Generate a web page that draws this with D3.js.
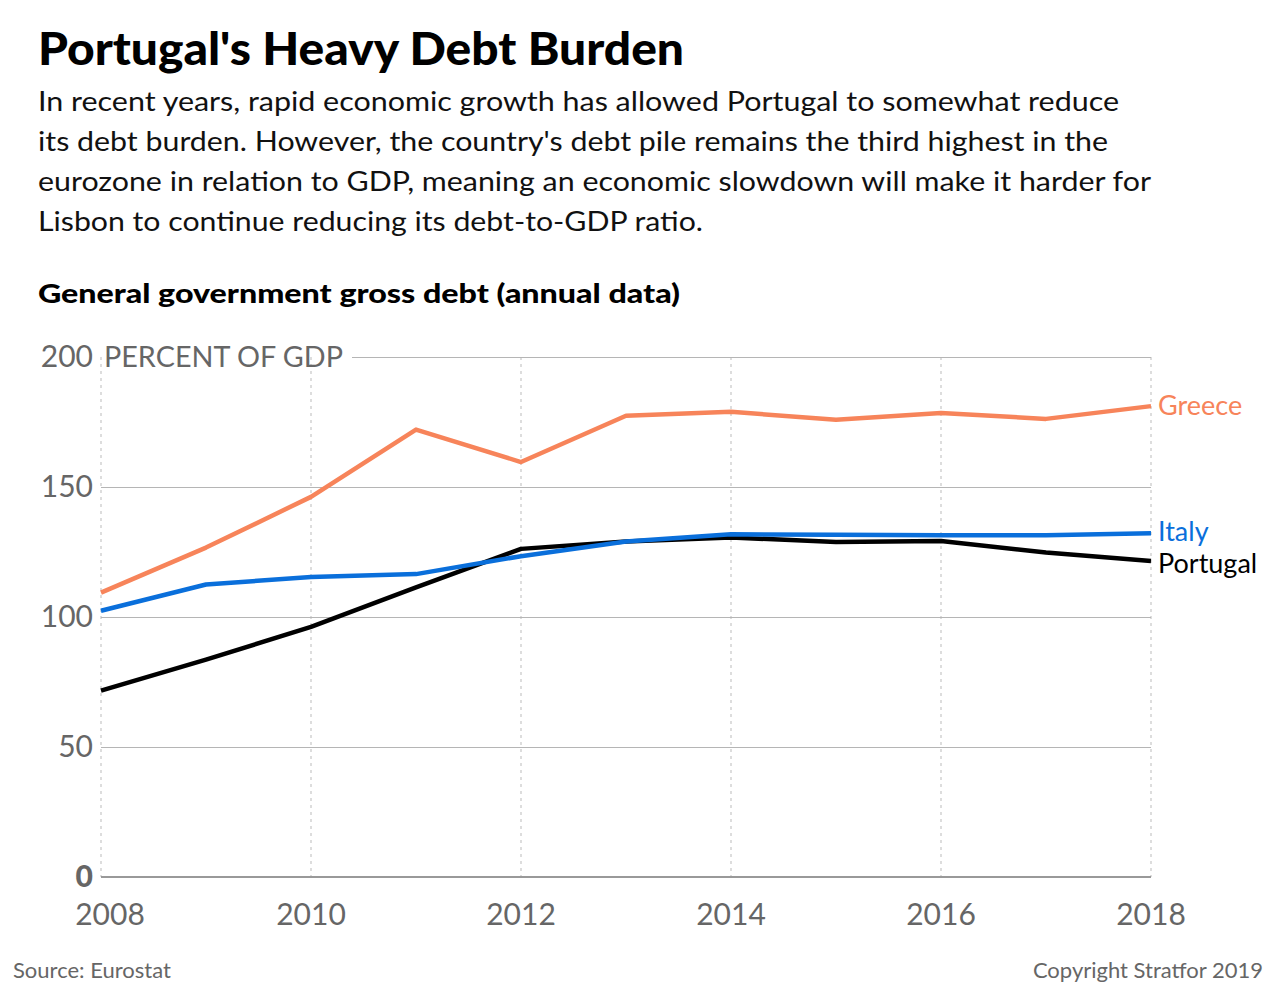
<!DOCTYPE html>
<html>
<head>
<meta charset="utf-8">
<script src="https://cdn.jsdelivr.net/npm/d3@7"></script>
<style>
  body { margin: 0; background: #fff; }
  svg text { font-family: Lato, "Open Sans", sans-serif; }
</style>
</head>
<body>
<svg></svg>
<script>
const years = [2008, 2009, 2010, 2011, 2012, 2013, 2014, 2015, 2016, 2017, 2018]
const greece = [109.4, 126.7, 146.2, 172.1, 159.6, 177.4, 178.9, 175.9, 178.5, 176.2, 181.1]
const italy = [102.4, 112.5, 115.4, 116.5, 123.4, 129.0, 131.8, 131.6, 131.4, 131.4, 132.2]
const portugal = [71.7, 83.6, 96.2, 111.4, 126.2, 129.0, 130.6, 128.8, 129.2, 124.8, 121.5]
const yTicks = [0, 50, 100, 150, 200]
const xTicks = [2008, 2010, 2012, 2014, 2016, 2018]

const series = [
      { name: "Greece", values: greece, color: "#f7845a" },
      { name: "Italy", values: italy, color: "#0a6fdb" },
      { name: "Portugal", values: portugal, color: "#000000" }]

const width = 1280
const height = 1005

const svg = d3.select("svg")
      .attr("width", width)
      .attr("height", height)

const x = d3.scaleLinear().domain([2008, 2018]).range([101, 1151])
const y = d3.scaleLinear().domain([0, 200]).range([877, 357])

// headings
svg.append("text")
      .attr("x", 38).attr("y", 65)
      .attr("font-size", 46).attr("font-weight", 900)
      .attr("textLength", 646).attr("lengthAdjust", "spacingAndGlyphs")
      .text("Portugal's Heavy Debt Burden")

const intro = [
      "In recent years, rapid economic growth has allowed Portugal to somewhat reduce",
      "its debt burden. However, the country's debt pile remains the third highest in the",
      "eurozone in relation to GDP, meaning an economic slowdown will make it harder for",
      "Lisbon to continue reducing its debt-to-GDP ratio."]
const introW = [1081, 1070, 1113, 665]

svg.append("g")
      .selectAll("text")
      .data(intro)
      .join("text")
      .attr("x", 38)
      .attr("y", (d, i) => 111 + i * 40)
      .attr("font-size", 26)
      .attr("fill", "#111")
      .attr("textLength", (d, i) => introW[i])
      .attr("lengthAdjust", "spacingAndGlyphs")
      .text(d => d)

svg.append("text")
      .attr("x", 38).attr("y", 303)
      .attr("font-size", 27).attr("font-weight", 900)
      .attr("textLength", 642).attr("lengthAdjust", "spacingAndGlyphs")
      .text("General government gross debt (annual data)")

// grid
svg.append("g")
      .attr("stroke", "#bbb")
      .attr("stroke-dasharray", "3,4")
      .selectAll("line")
      .data(xTicks)
      .join("line")
      .attr("x1", d => x(d)).attr("x2", d => x(d))
      .attr("y1", y(200)).attr("y2", y(0))

svg.append("g")
      .attr("stroke", "#b5b5b5")
      .selectAll("line")
      .data(yTicks.filter(d => d > 0))
      .join("line")
      .attr("x1", d => d === 200 ? 352 : x(2008))
      .attr("x2", x(2018))
      .attr("y1", d => y(d) + 0.5).attr("y2", d => y(d) + 0.5)

svg.append("line")
      .attr("x1", x(2008)).attr("x2", x(2018))
      .attr("y1", y(0)).attr("y2", y(0))
      .attr("stroke", "#999").attr("stroke-width", 2)

// axis labels
svg.append("g")
      .selectAll("text")
      .data(yTicks)
      .join("text")
      .attr("x", 93)
      .attr("y", d => y(d) + 10)
      .attr("text-anchor", "end")
      .attr("font-size", 30)
      .attr("font-weight", d => d === 0 ? 900 : 400)
      .attr("fill", "#666")
      .text(d => d)

svg.append("text")
      .attr("x", 104).attr("y", y(200) + 10)
      .attr("font-size", 28).attr("fill", "#666")
      .attr("textLength", 239).attr("lengthAdjust", "spacingAndGlyphs")
      .text("PERCENT OF GDP")

svg.append("g")
      .selectAll("text")
      .data(xTicks)
      .join("text")
      .attr("x", d => x(d) + (d === 2008 ? 9 : 0))
      .attr("y", 925)
      .attr("text-anchor", "middle")
      .attr("font-size", 30)
      .attr("fill", "#666")
      .text(d => d)

// lines
const line = d3.line()
      .x((d, i) => x(years[i]))
      .y(d => y(d))

svg.append("g")
      .attr("fill", "none")
      .attr("stroke-width", 4.5)
      .attr("stroke-linejoin", "round")
      .selectAll("path")
      .data(series.slice().reverse())
      .join("path")
      .attr("stroke", d => d.color)
      .attr("d", d => line(d.values))

const labelDy = { Greece: 9, Italy: 8, Portugal: 12 }
svg.append("g")
      .selectAll("text")
      .data(series)
      .join("text")
      .attr("x", 1158)
      .attr("y", d => y(d.values[d.values.length - 1]) + labelDy[d.name])
      .attr("font-size", 27)
      .attr("fill", d => d.color)
      .text(d => d.name)

// footer
svg.append("text")
      .attr("x", 13).attr("y", 978)
      .attr("font-size", 22).attr("fill", "#666")
      .text("Source: Eurostat")

svg.append("text")
      .attr("x", 1263).attr("y", 978)
      .attr("text-anchor", "end")
      .attr("font-size", 22).attr("fill", "#666")
      .text("Copyright Stratfor 2019")
</script>
</body>
</html>
